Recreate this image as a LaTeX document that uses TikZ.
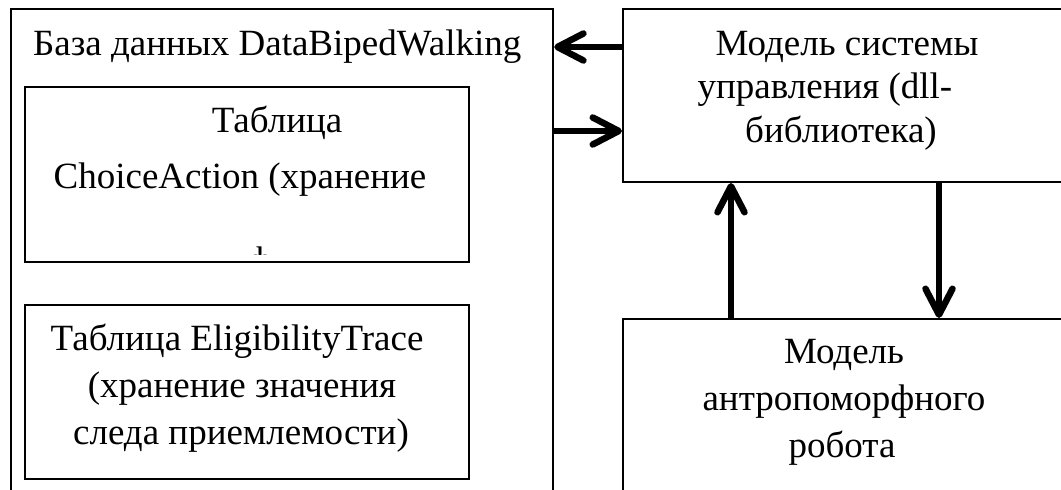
\documentclass[tikz,border=0pt]{standalone}
\usepackage{fontspec}
\setmainfont{Liberation Serif}
\usetikzlibrary{arrows.meta}
\begin{document}
\begin{tikzpicture}[x=1pt,y=-1pt,
  frame/.style={draw=black,line width=2pt,inner sep=0pt,anchor=north west},
  txt/.style={font=\fontsize{37}{44}\selectfont,inner sep=0pt,anchor=base},
  arr/.style={line width=6.5pt,-{Straight Barb[length=26pt,width=27pt,round]}}]
\useasboundingbox (0,0) rectangle (1061,490);
\clip (0,0) rectangle (1061,490);
% boxes
\node[frame,line width=2.2pt,minimum width=542pt,minimum height=520pt] (db) at (10,8) {};
\node[frame,minimum width=444pt,minimum height=175pt] (tabA) at (24,86) {};
\node[frame,minimum width=444pt,minimum height=174pt] (tabB) at (24,304) {};
\node[frame,minimum width=450pt,minimum height=173.5pt] (ctrl) at (622,7.5) {};
\node[frame,minimum width=450pt,minimum height=250pt] (robot) at (622,318) {};
% texts
\node[txt,anchor=base west] (dbT) at (33,55) {База данных DataBipedWalking};
\node[txt] (tA1) at (277,132) {Таблица};
\node[txt] (tA2) at (240,188) {ChoiceAction (хранение};
\begin{scope}
\clip (24,86) rectangle (468,254);
\node[txt] (tA3) at (260,272) {ф};
\end{scope}
\node[txt] (tB1) at (237,350) {Таблица EligibilityTrace};
\node[txt] (tB2) at (242,397) {(хранение значения};
\node[txt] (tB3) at (241,444) {следа приемлемости)};
\node[txt] (c1) at (847,55) {Модель системы};
\node[txt] (c2) at (825,98.5) {управления (dll-};
\node[txt] (c3) at (841,142) {библиотека)};
\node[txt] (r1) at (844,363) {Модель};
\node[txt] (r2) at (844,410) {антропоморфного};
\node[txt] (r3) at (842,457) {робота};
% connector levels
\coordinate (la) at (0,47);
\coordinate (lb) at (0,131);
\coordinate (ua) at (731,0);
\coordinate (da) at (939,0);
\draw[arr] (ctrl.west |- la) -- (db.east |- la);
\draw[arr] (db.east |- lb) -- (ctrl.west |- lb);
\draw[arr] (robot.north -| ua) -- (ctrl.south -| ua);
\draw[arr] (ctrl.south -| da) -- (robot.north -| da);
\end{tikzpicture}
\end{document}
